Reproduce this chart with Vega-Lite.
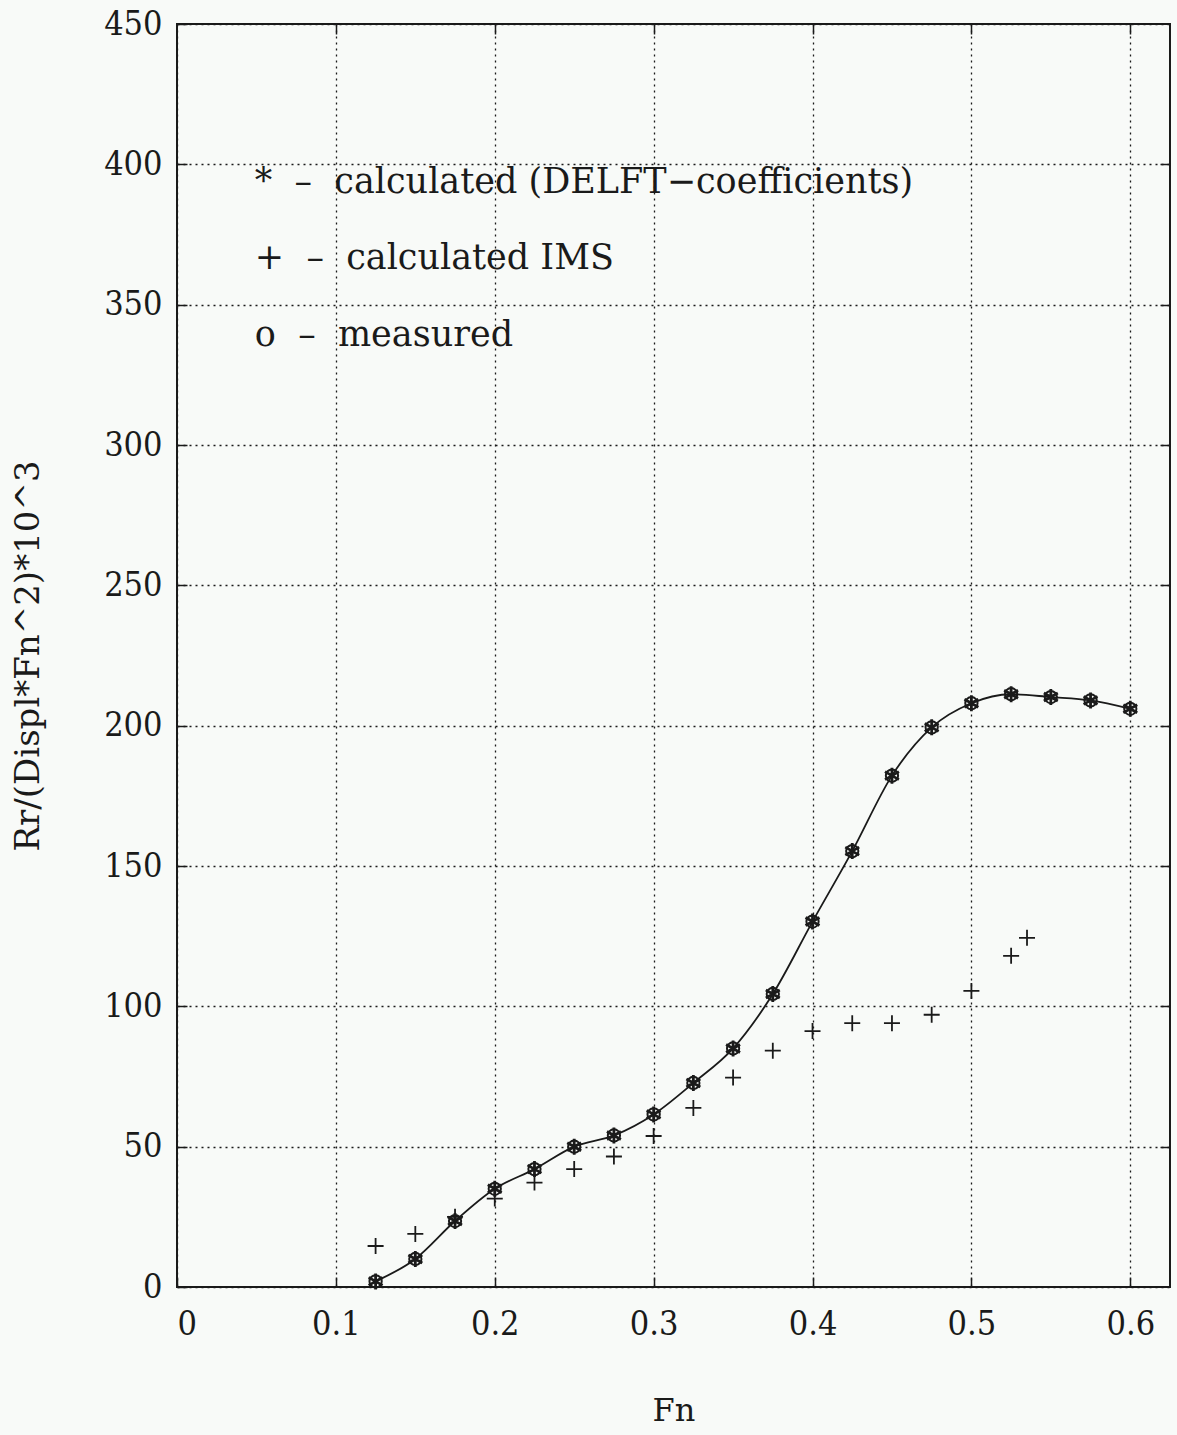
{
  "$schema": "https://vega.github.io/schema/vega-lite/v6.json",
  "width": 993,
  "height": 1263,
  "autosize": {"type": "none"},
  "padding": {"left": 177, "top": 24, "right": 7, "bottom": 148},
  "background": "#f8faf8",
  "config": {
    "view": {"stroke": "#1a1a1a", "strokeWidth": 2},
    "font": "DejaVu Serif",
    "axis": {
      "labelFont": "DejaVu Serif Condensed",
      "titleFont": "DejaVu Serif",
      "labelFontSize": 34,
      "titleFontSize": 32,
      "titleFontWeight": "normal",
      "labelColor": "#1a1a1a",
      "titleColor": "#1a1a1a",
      "tickColor": "#1a1a1a",
      "tickWidth": 1.5,
      "tickSize": -10,
      "domain": false,
      "gridColor": "#1a1a1a",
      "gridDash": [2, 4],
      "gridWidth": 1.3,
      "gridOpacity": 1
    }
  },
  "datasets": {
    "calc": [
      {"Fn": 0.125, "R": 2}, {"Fn": 0.15, "R": 10}, {"Fn": 0.175, "R": 23.5},
      {"Fn": 0.2, "R": 35}, {"Fn": 0.225, "R": 42}, {"Fn": 0.25, "R": 50},
      {"Fn": 0.275, "R": 54}, {"Fn": 0.3, "R": 61.5}, {"Fn": 0.325, "R": 72.7},
      {"Fn": 0.35, "R": 85}, {"Fn": 0.375, "R": 104.4}, {"Fn": 0.4, "R": 130.2},
      {"Fn": 0.425, "R": 155.3}, {"Fn": 0.45, "R": 182.2}, {"Fn": 0.475, "R": 199.4},
      {"Fn": 0.5, "R": 208}, {"Fn": 0.525, "R": 211.2}, {"Fn": 0.55, "R": 210.2},
      {"Fn": 0.575, "R": 209}, {"Fn": 0.6, "R": 206}
    ],
    "meas": [
      {"Fn": 0.125, "R": 2}, {"Fn": 0.15, "R": 10}, {"Fn": 0.175, "R": 23.5},
      {"Fn": 0.2, "R": 35}, {"Fn": 0.225, "R": 42}, {"Fn": 0.25, "R": 50},
      {"Fn": 0.275, "R": 54}, {"Fn": 0.3, "R": 61.5}, {"Fn": 0.325, "R": 72.7},
      {"Fn": 0.35, "R": 85}, {"Fn": 0.375, "R": 104.4}, {"Fn": 0.4, "R": 130.2},
      {"Fn": 0.425, "R": 155.3}, {"Fn": 0.45, "R": 182.2}, {"Fn": 0.475, "R": 199.4},
      {"Fn": 0.5, "R": 208}, {"Fn": 0.525, "R": 211.2}, {"Fn": 0.55, "R": 210.2},
      {"Fn": 0.575, "R": 209}, {"Fn": 0.6, "R": 206}
    ],
    "ims": [
      {"Fn": 0.125, "R": 14.6}, {"Fn": 0.15, "R": 18.9}, {"Fn": 0.175, "R": 25},
      {"Fn": 0.2, "R": 31.5}, {"Fn": 0.225, "R": 37.2}, {"Fn": 0.25, "R": 42},
      {"Fn": 0.275, "R": 46.5}, {"Fn": 0.3, "R": 53.8}, {"Fn": 0.325, "R": 63.8},
      {"Fn": 0.35, "R": 74.6}, {"Fn": 0.375, "R": 84.2}, {"Fn": 0.4, "R": 91.2},
      {"Fn": 0.425, "R": 94}, {"Fn": 0.45, "R": 94}, {"Fn": 0.475, "R": 97},
      {"Fn": 0.5, "R": 105.5}, {"Fn": 0.525, "R": 118}, {"Fn": 0.535, "R": 124.4}
    ],
    "legend": [
      {"Fn": 0.049, "R": 393.7, "label": "*\u00a0\u00a0–\u00a0\u00a0calculated (DELFT−coefficients)"},
      {"Fn": 0.049, "R": 366.6, "label": "+\u00a0\u00a0–\u00a0\u00a0calculated IMS"},
      {"Fn": 0.049, "R": 339.2, "label": "o\u00a0\u00a0–\u00a0\u00a0measured"}
    ]
  },
  "layer": [
    {
      "data": {"name": "calc"},
      "mark": {"type": "line", "interpolate": "monotone", "color": "#1a1a1a", "strokeWidth": 1.8},
      "encoding": {
        "x": {
          "field": "Fn", "type": "quantitative",
          "scale": {"domain": [0, 0.625], "nice": false, "zero": false},
          "axis": {
            "orient": "bottom", "title": "Fn", "values": [0, 0.1, 0.2, 0.3, 0.4, 0.5, 0.6],
            "format": ".1~f", "labelPadding": 30, "titlePadding": 54, "grid": true
          }
        },
        "y": {
          "field": "R", "type": "quantitative",
          "scale": {"domain": [0, 450], "nice": false},
          "axis": {
            "orient": "left", "title": "Rr/(Displ*Fn^2)*10^3",
            "values": [0, 50, 100, 150, 200, 250, 300, 350, 400, 450],
            "labelPadding": 25, "titlePadding": 58, "titleFontSize": 34, "grid": true
          }
        }
      }
    },
    {
      "data": {"name": "ims"},
      "mark": {"type": "point", "shape": "M-1,0L1,0M0,-1L0,1", "filled": false, "stroke": "#1a1a1a", "strokeWidth": 1.8, "size": 256, "opacity": 1},
      "encoding": {
        "x": {"field": "Fn", "type": "quantitative",
          "axis": {"orient": "top", "title": null, "labels": false, "grid": false, "values": [0.1, 0.2, 0.3, 0.4, 0.5, 0.6]}},
        "y": {"field": "R", "type": "quantitative",
          "axis": {"orient": "right", "title": null, "labels": false, "grid": false, "values": [50, 100, 150, 200, 250, 300, 350, 400]}}
      }
    },
    {
      "data": {"name": "meas"},
      "mark": {"type": "point", "shape": "circle", "filled": false, "stroke": "#1a1a1a", "strokeWidth": 2, "size": 150, "opacity": 1},
      "encoding": {
        "x": {"field": "Fn", "type": "quantitative", "axis": null},
        "y": {"field": "R", "type": "quantitative", "axis": null}
      }
    },
    {
      "data": {"name": "calc"},
      "mark": {"type": "point", "shape": "M0,-1L0,1M-0.87,-0.5L0.87,0.5M-0.87,0.5L0.87,-0.5", "filled": false, "stroke": "#1a1a1a", "strokeWidth": 2.8, "size": 256, "opacity": 1},
      "encoding": {
        "x": {"field": "Fn", "type": "quantitative", "axis": null},
        "y": {"field": "R", "type": "quantitative", "axis": null}
      }
    },
    {
      "data": {"name": "legend"},
      "mark": {"type": "text", "align": "left", "baseline": "middle", "font": "DejaVu Serif", "fontSize": 35, "color": "#1a1a1a"},
      "encoding": {
        "x": {"field": "Fn", "type": "quantitative", "axis": null},
        "y": {"field": "R", "type": "quantitative", "axis": null},
        "text": {"field": "label"}
      }
    }
  ],
  "resolve": {"axis": {"x": "independent", "y": "independent"}}
}
